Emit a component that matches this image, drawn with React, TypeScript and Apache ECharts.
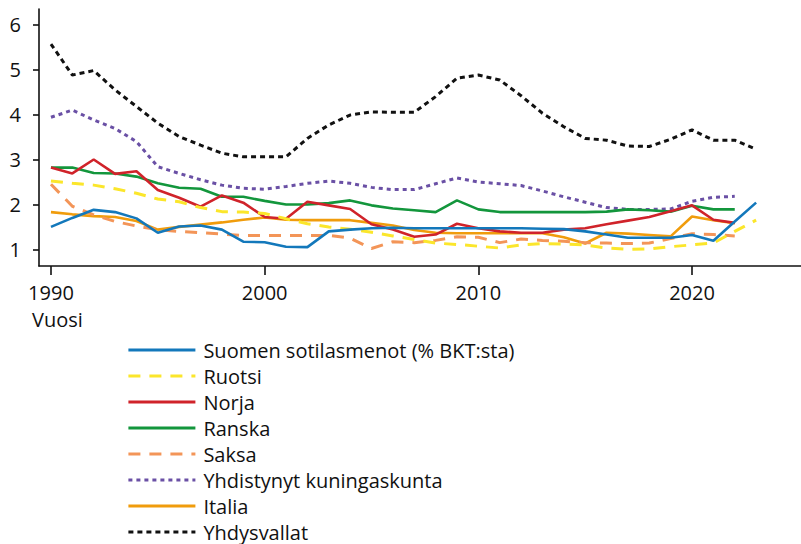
import React, { useEffect, useRef } from "react";
import * as echarts from "echarts";

const years = [
  1990, 1991, 1992, 1993, 1994, 1995, 1996, 1997, 1998, 1999,
  2000, 2001, 2002, 2003, 2004, 2005, 2006, 2007, 2008, 2009,
  2010, 2011, 2012, 2013, 2014, 2015, 2016, 2017, 2018, 2019,
  2020, 2021, 2022, 2023,
];

const suomi = [
  1.5, 1.7, 1.88, 1.83, 1.69, 1.37, 1.51, 1.53, 1.44, 1.17,
  1.16, 1.06, 1.05, 1.4, 1.44, 1.47, 1.48, 1.47, 1.47, 1.47,
  1.47, 1.47, 1.47, 1.46, 1.45, 1.4, 1.33, 1.26, 1.26, 1.26,
  1.32, 1.19, 1.62, 2.04,
];
const ruotsi = [
  2.52, 2.47, 2.43, 2.35, 2.25, 2.12, 2.06, 1.93, 1.84, 1.83,
  1.8, 1.68, 1.57, 1.5, 1.45, 1.38, 1.3, 1.22, 1.14, 1.11,
  1.07, 1.03, 1.1, 1.13, 1.12, 1.1, 1.03, 1.0, 1.01, 1.06,
  1.1, 1.14, 1.4, 1.65,
];
const norja = [
  2.82, 2.69, 3.0, 2.68, 2.74, 2.32, 2.15, 1.95, 2.2, 2.04,
  1.72, 1.68, 2.06, 1.98, 1.9, 1.56, 1.44, 1.28, 1.33, 1.57,
  1.47, 1.4, 1.37, 1.37, 1.44, 1.47, 1.56, 1.64, 1.72, 1.85,
  1.98, 1.66, 1.59, null,
];
const ranska = [
  2.82, 2.82, 2.7, 2.69, 2.62, 2.47, 2.37, 2.35, 2.17, 2.17,
  2.08, 2.0, 2.0, 2.03, 2.09, 1.98, 1.91, 1.87, 1.83, 2.09,
  1.89, 1.83, 1.83, 1.83, 1.83, 1.83, 1.84, 1.89, 1.87, 1.84,
  1.97, 1.89, 1.89, null,
];
const saksa = [
  2.45, 1.96, 1.77, 1.62, 1.52, 1.44, 1.4, 1.37, 1.34, 1.31,
  1.31, 1.31, 1.31, 1.31, 1.25, 1.02, 1.17, 1.15, 1.2, 1.28,
  1.27, 1.15, 1.23, 1.2, 1.18, 1.15, 1.14, 1.13, 1.14, 1.24,
  1.35, 1.33, 1.3, null,
];
const uk = [
  3.94, 4.1, 3.88, 3.69, 3.4, 2.84, 2.69, 2.55, 2.43, 2.36,
  2.34, 2.4, 2.47, 2.52, 2.47, 2.38, 2.33, 2.33, 2.46, 2.59,
  2.5, 2.46, 2.42, 2.3, 2.17, 2.05, 1.93, 1.89, 1.89, 1.9,
  2.07, 2.16, 2.18, null,
];
const italia = [
  1.83, 1.78, 1.74, 1.72, 1.63, 1.44, 1.5, 1.55, 1.6, 1.66,
  1.71, 1.66, 1.65, 1.65, 1.65, 1.59, 1.53, 1.43, 1.37, 1.36,
  1.36, 1.36, 1.36, 1.36, 1.27, 1.13, 1.37, 1.35, 1.32, 1.29,
  1.73, 1.65, 1.58, null,
];
const usa = [
  5.57, 4.88, 4.98, 4.55, 4.18, 3.81, 3.51, 3.32, 3.14, 3.06,
  3.06, 3.06, 3.47, 3.77, 3.99, 4.06, 4.05, 4.05, 4.4, 4.81,
  4.88, 4.77, 4.42, 4.03, 3.73, 3.47, 3.43, 3.3, 3.29, 3.45,
  3.66, 3.43, 3.43, 3.23,
];

const xTicks = [1990, 2000, 2010, 2020];
const yTicks = [1, 2, 3, 4, 5, 6];

const names = [
  "Suomen sotilasmenot (% BKT:sta)",
  "Ruotsi",
  "Norja",
  "Ranska",
  "Saksa",
  "Yhdistynyt kuningaskunta",
  "Italia",
  "Yhdysvallat",
];

const FONT = "Open Sans";

function pairs(vals: (number | null)[]) {
  const out: [number, number][] = [];
  vals.forEach((v, i) => {
    if (v !== null) out.push([years[i], v]);
  });
  return out;
}

export default function App() {
  const ref = useRef<HTMLDivElement>(null);
  useEffect(() => {
    if (!ref.current) return;
    const chart = echarts.init(ref.current, null, { renderer: "svg" });
    const styles = [
      { data: suomi, color: "#1378bb", type: "solid", width: 2.6 },
      { data: ruotsi, color: "#fbe62b", type: [12, 9], width: 3 },
      { data: norja, color: "#d0232a", type: "solid", width: 2.6 },
      { data: ranska, color: "#13963c", type: "solid", width: 2.6 },
      { data: saksa, color: "#f39558", type: [12, 9], width: 3 },
      { data: uk, color: "#6a50a5", type: [4, 4], width: 3 },
      { data: italia, color: "#f09c0c", type: "solid", width: 2.6 },
      { data: usa, color: "#111111", type: [5, 4], width: 3 },
    ];
    chart.setOption({
      animation: false,
      textStyle: { fontFamily: FONT },
      grid: { left: 39, right: 0, top: 9, bottom: 278, containLabel: false },
      xAxis: {
        type: "value",
        min: 1989.44,
        max: 2025.1,
        splitLine: { show: false },
        axisLine: { lineStyle: { color: "#111", width: 1.6 } },
        axisTick: {
          customValues: xTicks,
          length: 9,
          lineStyle: { color: "#111", width: 1.6 },
        },
        axisLabel: {
          customValues: xTicks,
          formatter: (v: number) => String(v),
          fontSize: 20,
          color: "#111",
          margin: 16,
          fontFamily: FONT,
        },
      },
      yAxis: {
        type: "value",
        min: 0.63,
        max: 6.35,
        splitLine: { show: false },
        axisLine: { show: true, lineStyle: { color: "#111", width: 1.6 } },
        axisTick: {
          show: true,
          customValues: yTicks,
          length: 6,
          lineStyle: { color: "#111", width: 1.6 },
        },
        axisLabel: {
          customValues: yTicks,
          formatter: (v: number) => String(v),
          fontSize: 20,
          color: "#111",
          margin: 18,
          fontFamily: FONT,
        },
      },
      legend: {
        orient: "vertical",
        left: 127,
        top: 340,
        padding: 0,
        itemWidth: 67,
        itemHeight: 14,
        itemGap: 6,
        itemStyle: { opacity: 0 },
        lineStyle: { width: 2.8 },
        textStyle: {
          fontSize: 20,
          lineHeight: 20,
          color: "#111",
          fontFamily: FONT,
          padding: [0, 0, 0, 3],
        },
        data: names,
      },
      graphic: [
        {
          type: "text",
          left: 32,
          top: 309,
          style: { text: "Vuosi", fontSize: 20, fill: "#111", fontFamily: FONT },
        },
      ],
      series: styles.map((s, i) => ({
        name: names[i],
        type: "line",
        data: pairs(s.data),
        symbol: "none",
        showSymbol: false,
        color: s.color,
        lineStyle: { color: s.color, width: s.width, type: s.type },
        z: 10 - i,
      })),
    });
    return () => chart.dispose();
  }, []);
  return (
    <div
      ref={ref}
      style={{ width: 801, height: 544, position: "absolute", left: 0, top: 0 }}
    />
  );
}
